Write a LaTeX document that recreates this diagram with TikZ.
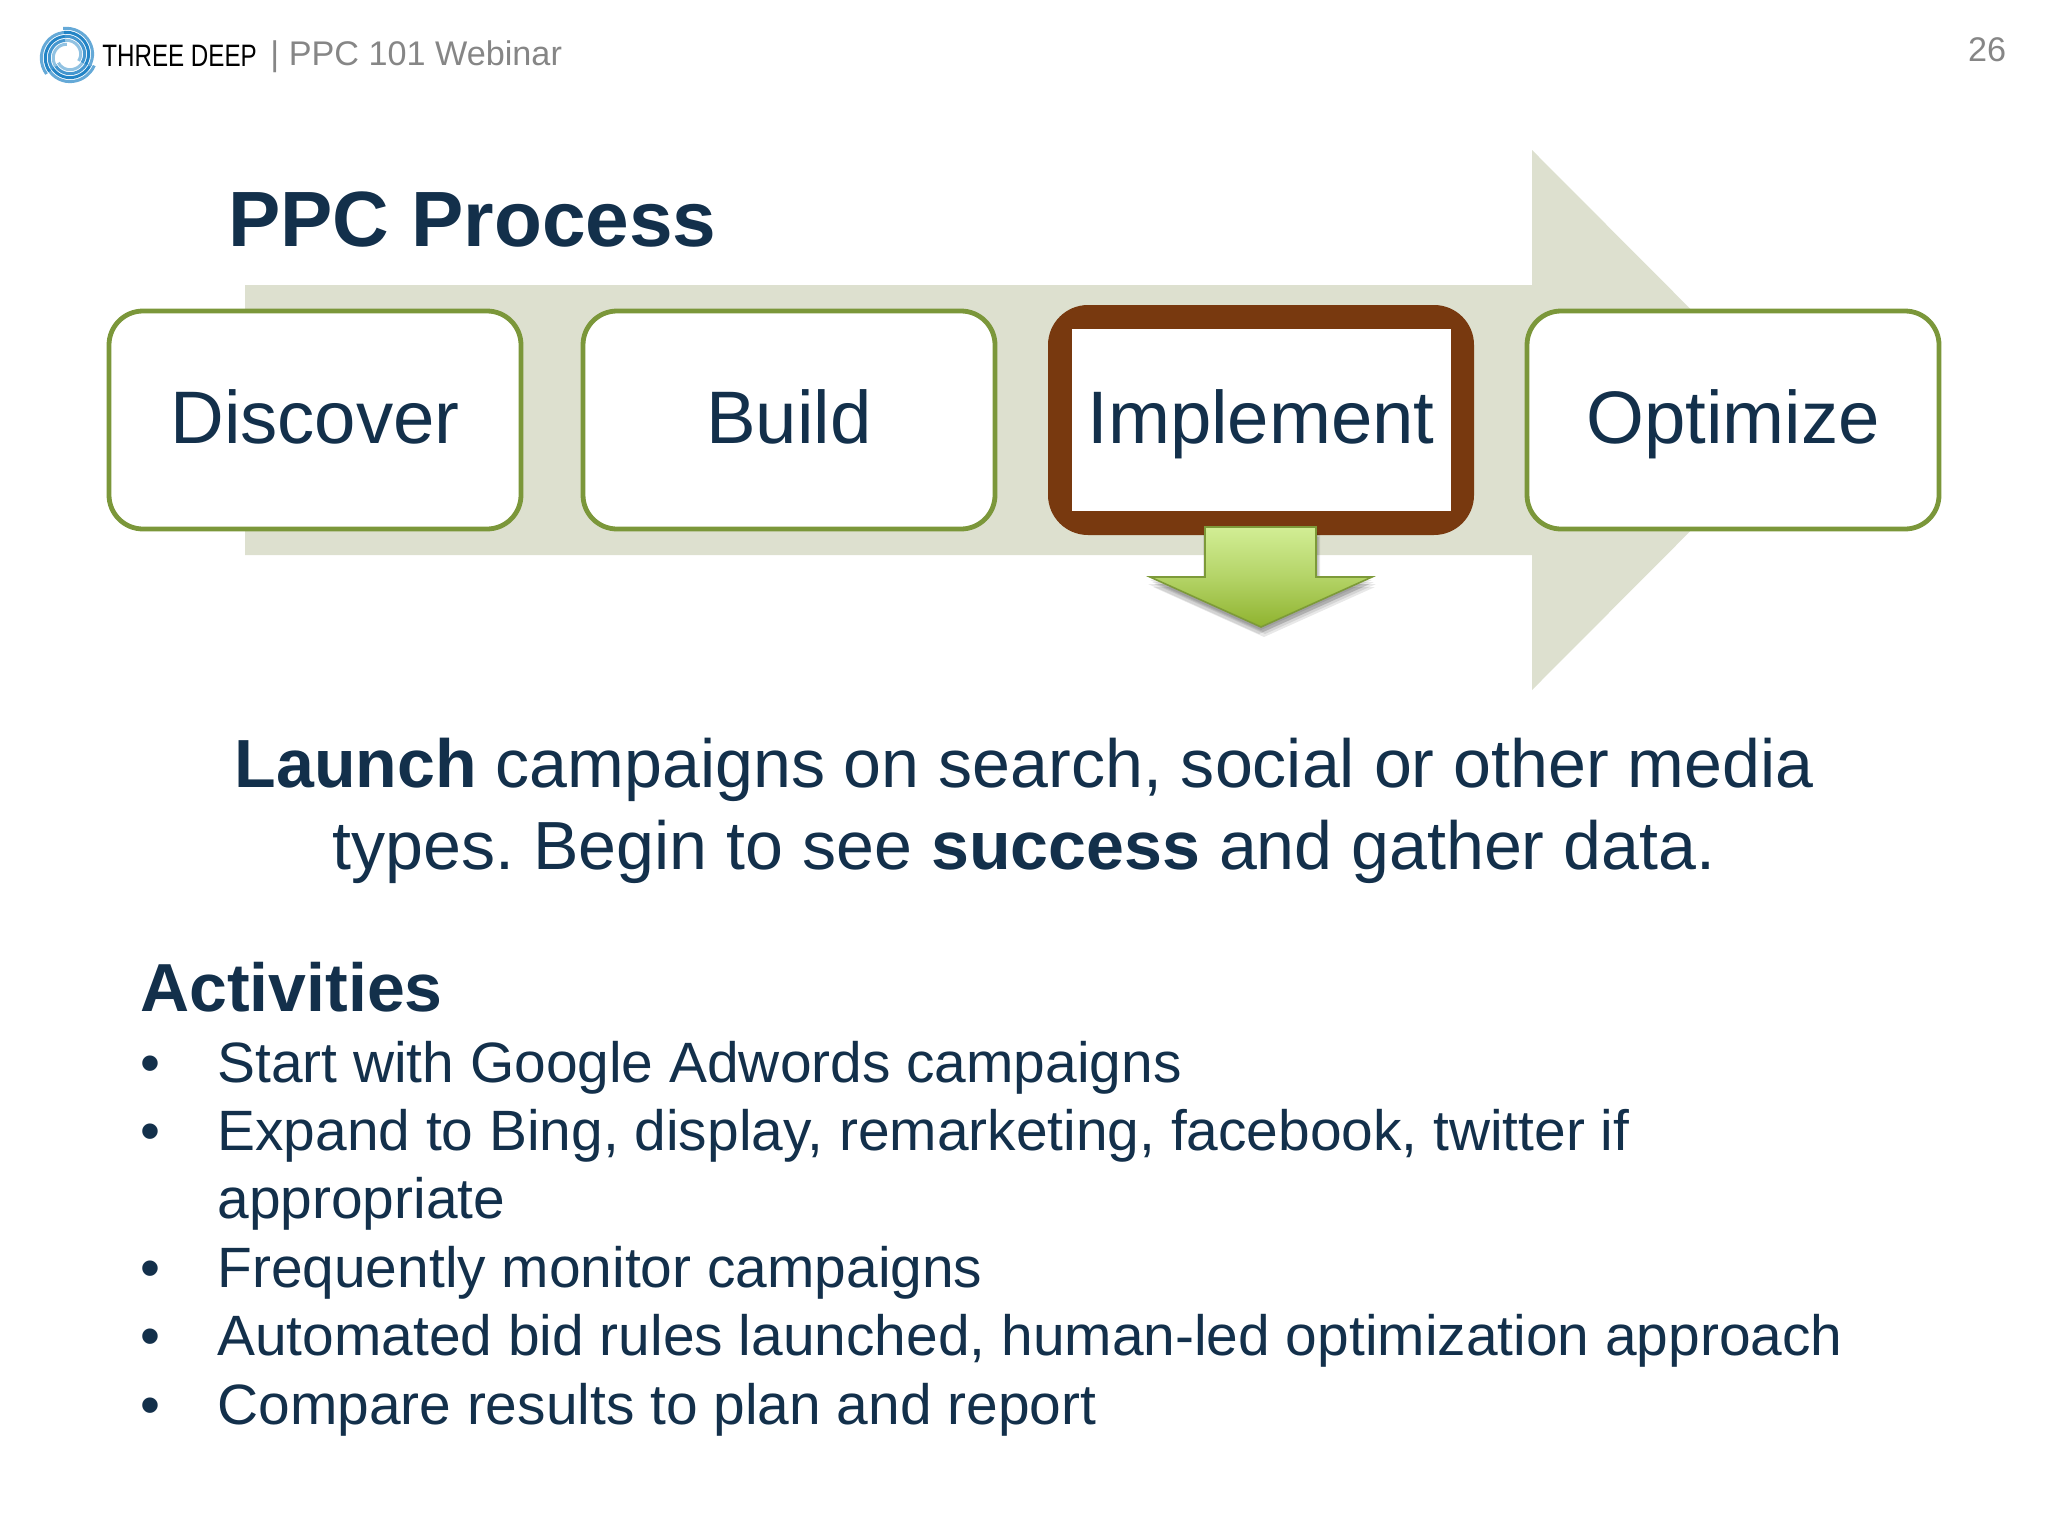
\documentclass[tikz,border=0pt]{standalone}
\usepackage{fontspec}
\setmainfont{Liberation Sans}
\usepackage{xcolor}
\usetikzlibrary{positioning}
\definecolor{navy}{HTML}{13304B}
\definecolor{bandgray}{HTML}{DDE0CF}
\definecolor{boxgreen}{HTML}{7B973A}
\definecolor{framebrown}{HTML}{78390F}
\definecolor{headgray}{HTML}{868686}
\definecolor{logoblue}{HTML}{2384C6}
\definecolor{arrowtop}{HTML}{D2EE95}
\definecolor{arrowbottom}{HTML}{8FB32F}
\tikzset{
stagebox/.style={
  draw=boxgreen, line width=2.4pt, fill=white, rounded corners=17pt,
  minimum width=206pt, minimum height=109pt, outer sep=0pt, align=center,
  text=navy, font=\fontsize{37.2}{37.2}\selectfont, text height=31.5pt, text depth=8pt
},
stageframe/.style={
  fill=framebrown, rounded corners=20pt, minimum width=213pt, minimum height=115pt, outer sep=0pt
},
stageinner/.style={
  fill=white, minimum width=189.5pt, minimum height=91pt, inner sep=0pt,
  text=navy, font=\fontsize{37.2}{37.2}\selectfont, text height=31.5pt, text depth=8pt
},
itemtext/.style={anchor=base west, inner sep=0pt, text=navy, font=\fontsize{28.44}{28.44}\selectfont},
itemdot/.style={anchor=base, inner sep=0pt, text=navy, font=\fontsize{28.44}{28.44}\selectfont},
bodyline/.style={anchor=base, inner sep=0pt, text=navy, font=\fontsize{34.06}{34.06}\selectfont},
headtext/.style={anchor=base west, inner sep=0pt, text=headgray, font=\fontsize{17.1}{17.1}\selectfont},
}
\begin{document}
\frenchspacing
\begin{tikzpicture}[x=0.5pt,y=-0.5pt]
    \useasboundingbox (0,0) rectangle (2048,1536);

    % page head
    \begin{scope}[shift={(68,56)}]
    \foreach \turn in {20,140,260} {
        \foreach \rad/\shade in {28/70,24/100,20/85,16/50} {
            \draw[logoblue!\shade, line width=1.5pt] plot[domain=0:125, samples=16]
                ({(\rad-\x*0.035)*cos(\turn+\x)},{(\rad-\x*0.035)*sin(\turn+\x)});
        }
    }
    \end{scope}
    \node[anchor=base west, inner sep=0pt, font=\fontsize{15.5}{15.5}\selectfont, xscale=0.78] (brand) at (102,67) {THREE DEEP};
    \node[headtext] (webinar) at (270,66) {| PPC 101 Webinar};
    \node[headtext, anchor=base] (pageno) at (1987,62) {26};

    % band behind the stages
    \fill[bandgray] (245,285) -- (1532,285) -- (1532,150) -- (1801,420) -- (1532,690) -- (1532,555) -- (245,555) -- cycle;

    \node[anchor=base west, inner sep=0pt, text=navy, font=\fontsize{39.2}{39.2}\bfseries\selectfont] (title) at (228,246) {PPC Process};

    \node[stagebox] (discover) at (315,420) {Discover};
    \node[stagebox, right=31pt of discover] (build) {Build};
    \node[stageframe, right=26.5pt of build] (frame) {};
    \node[stageinner] (implement) at (frame) {Implement};
    \node[stagebox, right=26.5pt of frame] (optimize) {Optimize};

    % soft shadow of the down arrow
    \foreach \sx/\sy in {0/3,2/5,4/7,3/10,-2/7} {
        \fill[black, opacity=.09, shift={(\sx,\sy)}]
            (1205,527) -- (1316,527) -- (1316,577) -- (1372,577) -- (1261,627) -- (1150,577) -- (1205,577) -- cycle;
    }
    \path[draw=boxgreen!90!arrowbottom, line width=0.8pt, top color=arrowtop, bottom color=arrowbottom, middle color=arrowtop!55!arrowbottom]
        (1205,527) -- (1316,527) -- (1316,577) -- (1372,577) -- (1261,627) -- (1150,577) -- (1205,577) -- cycle;

    % description
    \node[bodyline] (line1) at (1024,787) {\textbf{Launch} campaigns on search, social or other media};
    \node[bodyline] (line2) at (1024,869) {types. Begin to see \textbf{success} and gather data.};

    % activities
    \node[itemtext, font=\fontsize{34}{34}\bfseries\selectfont] (activities) at (140,1011) {Activities};
    \node[itemdot] (dot1) at (150,1082) {•};
    \node[itemtext] (item1) at (217,1082) {Start with Google Adwords campaigns};
    \node[itemdot] (dot2) at (150,1150) {•};
    \node[itemtext] (item2) at (217,1150) {Expand to Bing, display, remarketing, facebook, twitter if};
    \node[itemtext] (item2b) at (217,1218) {appropriate};
    \node[itemdot] (dot3) at (150,1287) {•};
    \node[itemtext] (item3) at (217,1287) {Frequently monitor campaigns};
    \node[itemdot] (dot4) at (150,1355) {•};
    \node[itemtext] (item4) at (217,1355) {Automated bid rules launched, human-led optimization approach};
    \node[itemdot] (dot5) at (150,1424) {•};
    \node[itemtext] (item5) at (217,1424) {Compare results to plan and report};
\end{tikzpicture}
\end{document}
